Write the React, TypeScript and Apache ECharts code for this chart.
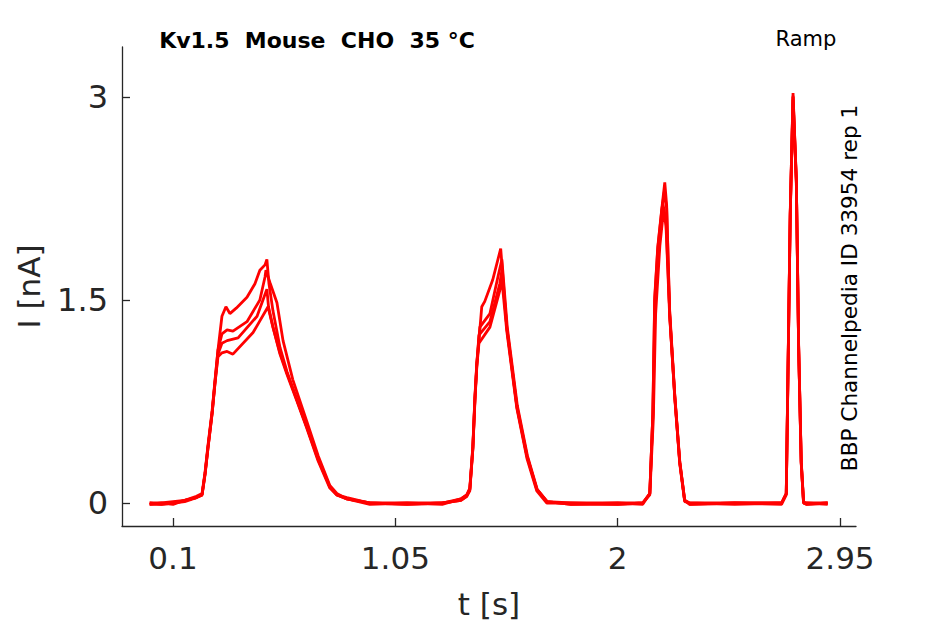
import React, { useEffect, useRef } from "react";
import * as echarts from "echarts";

const xTicks = [0.1, 1.05, 2, 2.95];
const yTicks = [0, 1.5, 3];

const titleText = "Kv1.5  Mouse  CHO  35 °C";
const protocolText = "Ramp";
const sideText = "BBP Channelpedia ID 33954 rep 1";

// trace A: highest plateau
const traceA: [number, number][] = [
  [0.0, 0.0], [0.05, -0.01], [0.1, 0.0], [0.15, 0.02], [0.2, 0.04], [0.224, 0.06],
  [0.237, 0.22], [0.249, 0.41], [0.267, 0.67], [0.279, 0.89], [0.292, 1.13], [0.309, 1.38],
  [0.326, 1.45], [0.343, 1.40], [0.37, 1.44], [0.416, 1.52], [0.45, 1.62], [0.471, 1.72],
  [0.493, 1.76], [0.501, 1.80], [0.51, 1.62], [0.527, 1.42], [0.557, 1.15], [0.587, 0.97],
  [0.63, 0.76], [0.672, 0.56], [0.72, 0.32], [0.77, 0.12], [0.80, 0.06], [0.843, 0.03],
  [0.941, 0.0], [1.1, -0.01], [1.25, 0.0], [1.33, 0.03], [1.355, 0.06], [1.368, 0.10],
  [1.381, 0.41], [1.39, 0.78], [1.398, 1.03], [1.407, 1.20], [1.419, 1.45], [1.432, 1.49],
  [1.466, 1.65], [1.5, 1.88], [1.526, 1.30], [1.569, 0.72], [1.612, 0.35], [1.654, 0.10],
  [1.697, 0.01], [1.8, -0.01], [2.0, -0.01], [2.107, 0.0], [2.137, 0.07], [2.15, 0.66],
  [2.158, 1.52], [2.171, 1.89], [2.188, 2.17], [2.201, 2.37], [2.209, 2.20], [2.222, 1.40],
  [2.244, 0.78], [2.265, 0.30], [2.286, 0.02], [2.308, -0.01], [2.5, 0.0], [2.7, 0.0],
  [2.72, 0.07], [2.727, 0.91], [2.737, 2.14], [2.749, 3.03], [2.763, 2.39], [2.773, 1.15],
  [2.784, 0.30], [2.794, 0.0], [2.807, -0.01], [2.897, 0.0],
];

// trace B
const traceB: [number, number][] = [
  [0.0, -0.01], [0.05, 0.0], [0.1, 0.01], [0.15, 0.02], [0.2, 0.05], [0.224, 0.07],
  [0.237, 0.23], [0.249, 0.42], [0.267, 0.68], [0.279, 0.90], [0.292, 1.13], [0.309, 1.25],
  [0.331, 1.28], [0.356, 1.27], [0.416, 1.34], [0.471, 1.50], [0.493, 1.67], [0.497, 1.72],
  [0.514, 1.63], [0.544, 1.48], [0.57, 1.20], [0.612, 0.91], [0.672, 0.60], [0.72, 0.35],
  [0.77, 0.13], [0.80, 0.07], [0.843, 0.03], [0.941, 0.0], [1.1, 0.0], [1.25, -0.01],
  [1.33, 0.03], [1.355, 0.06], [1.368, 0.11], [1.381, 0.42], [1.39, 0.79], [1.398, 1.04],
  [1.411, 1.30], [1.454, 1.40], [1.488, 1.67], [1.505, 1.80], [1.528, 1.30], [1.571, 0.72],
  [1.614, 0.35], [1.656, 0.10], [1.699, 0.01], [1.8, 0.0], [2.0, 0.0], [2.107, -0.01],
  [2.137, 0.07], [2.151, 0.70], [2.16, 1.50], [2.175, 1.85], [2.192, 2.22], [2.205, 2.10],
  [2.222, 1.38], [2.244, 0.78], [2.265, 0.30], [2.286, 0.02], [2.308, 0.0], [2.5, -0.01],
  [2.7, 0.0], [2.72, 0.07], [2.727, 0.93], [2.737, 2.12], [2.749, 2.98], [2.763, 2.37],
  [2.773, 1.14], [2.784, 0.30], [2.794, 0.0], [2.807, 0.0], [2.897, -0.01],
];

// trace C
const traceC: [number, number][] = [
  [0.0, 0.0], [0.05, 0.0], [0.1, -0.01], [0.15, 0.02], [0.2, 0.04], [0.224, 0.06],
  [0.237, 0.21], [0.249, 0.40], [0.267, 0.66], [0.279, 0.88], [0.292, 1.10], [0.309, 1.18],
  [0.331, 1.20], [0.378, 1.22], [0.459, 1.38], [0.501, 1.58], [0.508, 1.45], [0.527, 1.30],
  [0.557, 1.11], [0.587, 0.96], [0.63, 0.76], [0.672, 0.56], [0.72, 0.33], [0.77, 0.12],
  [0.80, 0.06], [0.843, 0.04], [0.941, 0.0], [1.1, -0.01], [1.25, 0.0], [1.33, 0.02],
  [1.355, 0.05], [1.368, 0.10], [1.381, 0.40], [1.39, 0.77], [1.398, 1.02], [1.407, 1.24],
  [1.454, 1.34], [1.496, 1.62], [1.505, 1.72], [1.527, 1.28], [1.57, 0.70], [1.613, 0.34],
  [1.655, 0.10], [1.698, 0.01], [1.8, -0.01], [2.0, 0.0], [2.107, 0.0], [2.137, 0.06],
  [2.152, 0.62], [2.162, 1.40], [2.18, 1.90], [2.195, 2.15], [2.207, 2.05], [2.222, 1.42],
  [2.244, 0.79], [2.265, 0.31], [2.286, 0.02], [2.308, -0.01], [2.5, 0.0], [2.7, -0.01],
  [2.72, 0.06], [2.727, 0.90], [2.737, 2.13], [2.749, 3.00], [2.763, 2.38], [2.773, 1.16],
  [2.784, 0.31], [2.794, 0.01], [2.807, -0.01], [2.897, 0.0],
];

// trace D: lowest plateau
const traceD: [number, number][] = [
  [0.0, -0.01], [0.05, -0.01], [0.1, 0.0], [0.15, 0.01], [0.2, 0.04], [0.224, 0.06],
  [0.237, 0.22], [0.249, 0.40], [0.267, 0.66], [0.279, 0.88], [0.292, 1.08], [0.309, 1.11],
  [0.331, 1.12], [0.356, 1.10], [0.442, 1.26], [0.506, 1.45], [0.527, 1.30], [0.557, 1.10],
  [0.587, 0.95], [0.63, 0.75], [0.672, 0.55], [0.72, 0.31], [0.77, 0.11], [0.80, 0.06],
  [0.843, 0.03], [0.941, -0.01], [1.1, 0.0], [1.25, 0.0], [1.33, 0.02], [1.355, 0.05],
  [1.368, 0.09], [1.381, 0.40], [1.39, 0.76], [1.398, 1.01], [1.407, 1.18], [1.454, 1.30],
  [1.496, 1.57], [1.505, 1.65], [1.526, 1.27], [1.569, 0.70], [1.612, 0.33], [1.654, 0.09],
  [1.697, 0.0], [1.8, 0.0], [2.0, -0.01], [2.107, 0.0], [2.137, 0.07], [2.15, 0.65],
  [2.158, 1.50], [2.171, 1.88], [2.188, 2.16], [2.199, 2.30], [2.209, 2.18], [2.222, 1.39],
  [2.244, 0.77], [2.265, 0.29], [2.286, 0.01], [2.308, 0.0], [2.5, 0.0], [2.7, 0.0],
  [2.72, 0.07], [2.727, 0.92], [2.737, 2.15], [2.749, 3.01], [2.763, 2.40], [2.773, 1.15],
  [2.784, 0.29], [2.794, 0.0], [2.807, 0.0], [2.897, 0.0],
];

const traces = [traceA, traceB, traceC, traceD];

const FONT = "'DejaVu Sans', sans-serif";
const INK = "#262626";

export default function App() {
  const ref = useRef<HTMLDivElement>(null);
  useEffect(() => {
    if (!ref.current) return;
    const chart = echarts.init(ref.current, undefined, { renderer: "svg" });
    chart.setOption({
      animation: false,
      backgroundColor: "#ffffff",
      grid: { left: 122, right: 89, top: 47, bottom: 98 },
      xAxis: {
        type: "value",
        min: -0.118,
        max: 3.018,
        name: "t [s]",
        nameLocation: "middle",
        nameGap: 62,
        nameTextStyle: { fontFamily: FONT, fontSize: 31, color: INK },
        axisLine: { show: true, onZero: false, lineStyle: { color: INK, width: 1.3 } },
        axisTick: { show: true, inside: true, length: 8, customValues: xTicks, lineStyle: { color: INK, width: 1.3 } },
        axisLabel: { customValues: xTicks, fontFamily: FONT, fontSize: 31, color: INK, margin: 16, formatter: (v: number) => String(v) },
        splitLine: { show: false },
      },
      yAxis: {
        type: "value",
        min: -0.17,
        max: 3.37,
        name: "I [nA]",
        nameLocation: "middle",
        nameGap: 78,
        nameRotate: 90,
        nameTextStyle: { fontFamily: FONT, fontSize: 31, color: INK },
        axisLine: { show: true, onZero: false, lineStyle: { color: INK, width: 1.3 } },
        axisTick: { show: true, inside: true, length: 8, customValues: yTicks, lineStyle: { color: INK, width: 1.3 } },
        axisLabel: { customValues: yTicks, fontFamily: FONT, fontSize: 32, color: INK, margin: 14, formatter: (v: number) => String(v) },
        splitLine: { show: false },
      },
      series: traces.map((d) => ({
        type: "line",
        data: d,
        showSymbol: false,
        symbol: "none",
        lineStyle: { color: "#ff0000", width: 2.8 },
        itemStyle: { color: "#ff0000" },
        clip: true,
      })),
      graphic: [
        {
          type: "text",
          x: 317,
          y: 40,
          style: { text: titleText, font: `bold 22px ${FONT}`, fill: "#000000", textAlign: "center", textVerticalAlign: "middle" },
        },
        {
          type: "text",
          x: 806,
          y: 39,
          style: { text: protocolText, font: `21px ${FONT}`, fill: "#000000", textAlign: "center", textVerticalAlign: "middle" },
        },
        {
          type: "text",
          x: 849,
          y: 288,
          rotation: Math.PI / 2,
          style: { text: sideText, font: `21.6px ${FONT}`, fill: "#000000", textAlign: "center", textVerticalAlign: "middle" },
        },
      ],
    });
    return () => chart.dispose();
  }, []);
  return <div ref={ref} style={{ width: 945, height: 624, position: "absolute", left: 0, top: 0 }} />;
}
